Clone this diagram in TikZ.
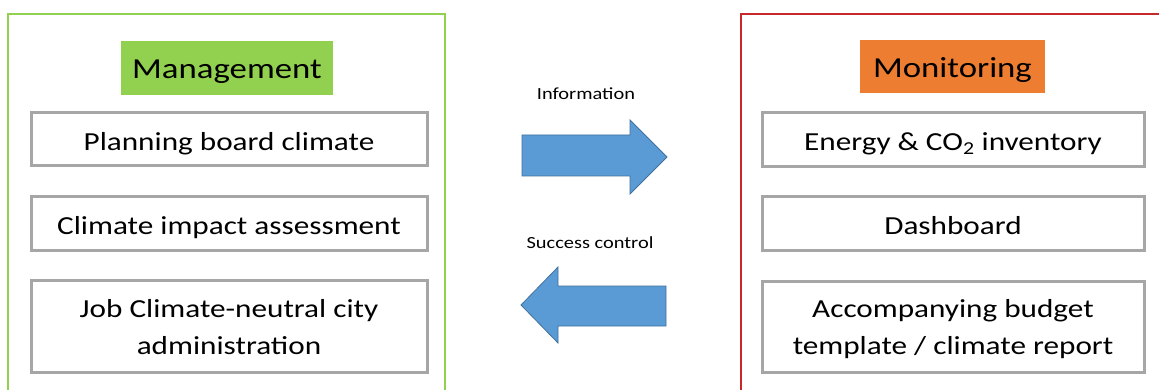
\documentclass[tikz,border=0pt]{standalone}
\usepackage{fontspec}
\setmainfont{Carlito}[FakeStretch=1.2]
\definecolor{mgreen}{HTML}{92D050}
\definecolor{morange}{HTML}{ED7D31}
\definecolor{mred}{HTML}{C8282A}
\definecolor{boxgray}{HTML}{A6A6A6}
\definecolor{arrowblue}{HTML}{5B9BD5}
\definecolor{arrowline}{HTML}{41719C}
\tikzset{
  itembox/.style={draw=boxgray, line width=3pt, fill=white, minimum width=396pt,
    align=center, font=\fontsize{26}{37}\selectfont, inner sep=0pt},
  oneline/.style={text height=25pt, text depth=3pt},
  twoline/.style={text depth=-3pt},
  headbox/.style={inner sep=0pt, font=\fontsize{29}{34}\selectfont,
    text height=26pt, text depth=4pt},
  flowlabel/.style={font=\fontsize{17}{20}\selectfont, inner sep=0pt},
  blockarrow/.style={fill=arrowblue, draw=arrowline, line width=0.8pt, line join=miter},
  frame/.style={line width=1.8pt}
}
\begin{document}
\begin{tikzpicture}[x=1pt, y=-1pt]
\useasboundingbox (0,0) rectangle (1159,390);
\fill[white] (0,0) rectangle (1159,390);

% outer frames (open at the bottom / right edge)
\draw[frame, draw=mgreen] (8,392) -- (8,14) -- (445,14) -- (445,392);
\draw[frame, draw=mred] (741,392) -- (741,14) -- (1165,14);

% headings
\node[headbox, fill=mgreen, minimum width=212pt, minimum height=54pt] (mgmt) at (227,68) {Management};
\node[headbox, fill=morange, minimum width=185pt, minimum height=53pt] (mon) at (952.5,66.5) {Monitoring};

% management items
\node[itembox, oneline, minimum height=53pt] (m1) at (229,139.5) {Planning board climate};
\node[itembox, oneline, minimum height=53pt] (m2) at (229,223.5) {Climate impact assessment};
\node[itembox, twoline, minimum height=92pt] (m3) at (229,326.5) {Job Climate-neutral city\\administration};

% monitoring items
\node[itembox, oneline, minimum width=382pt, minimum height=54pt] (r1) at (953,140) {Energy \& CO\textsubscript{2} inventory};
\node[itembox, oneline, minimum width=382pt, minimum height=53pt] (r2) at (953,223.5) {Dashboard};
\node[itembox, twoline, minimum width=382pt, minimum height=91pt] (r3) at (953,326.5) {Accompanying budget\\template / climate report};

% flow labels
\node[flowlabel] (info) at (586,94) {Information};
\node[flowlabel] (succ) at (590,243) {Success control};

% block arrows between the two sides
\coordinate (infoTip) at (667,157);
\draw[blockarrow] (522,135) -- (630,135) -- (630,120) -- (infoTip) -- (630,194) -- (630,176) -- (522,176) -- cycle;
\coordinate (succTip) at (521,305);
\draw[blockarrow] (666,286) -- (558,286) -- (558,267) -- (succTip) -- (558,343) -- (558,326) -- (666,326) -- cycle;
\end{tikzpicture}
\end{document}
